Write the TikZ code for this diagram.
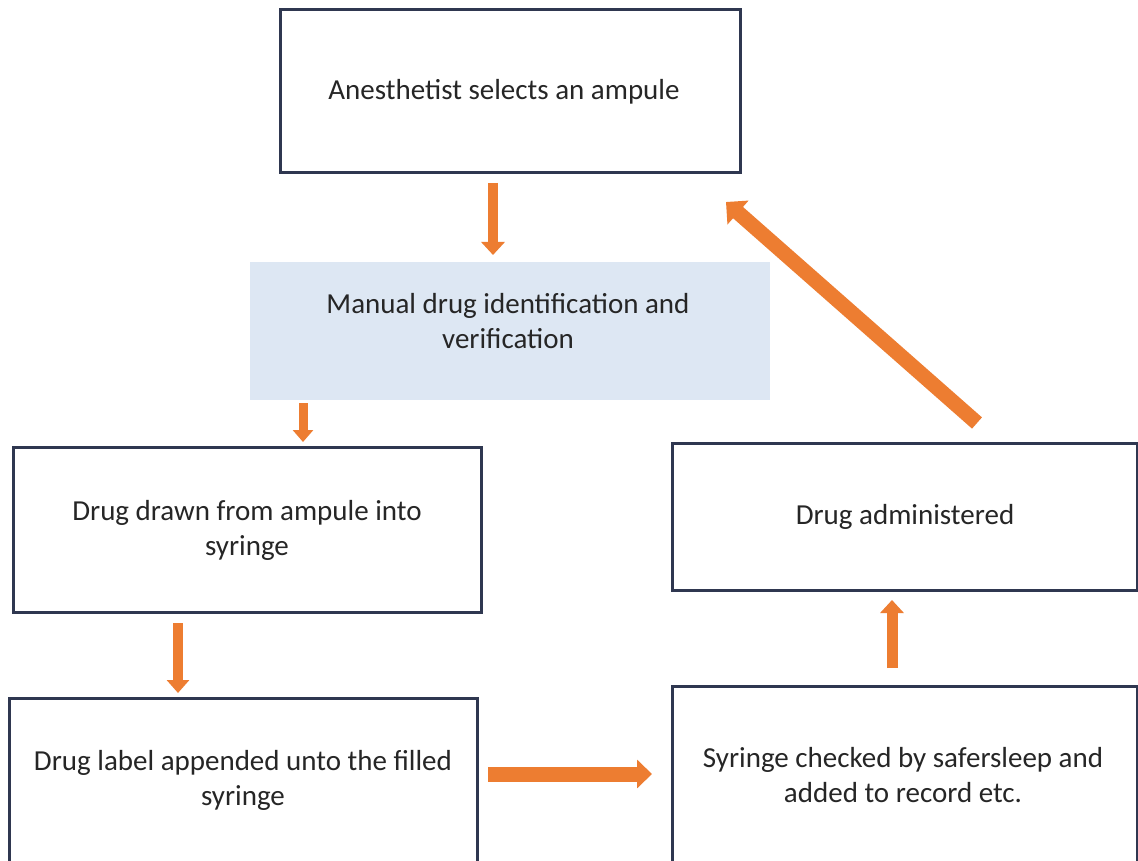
\documentclass[tikz,border=0pt]{standalone}
\usepackage{fontspec}
\setmainfont{Carlito}
\usetikzlibrary{arrows.meta,calc}
\definecolor{boxline}{HTML}{2F3750}
\definecolor{flowarrow}{HTML}{ED7D31}
\definecolor{checkfill}{HTML}{DDE7F3}
\definecolor{textgray}{HTML}{262626}
\tikzset{
  stepbox/.style={draw=boxline, line width=3pt, fill=white, rectangle, outer sep=0pt, inner sep=0pt},
  checkbox/.style={fill=checkfill, rectangle, outer sep=0pt, inner sep=0pt},
  steptext/.style={text=textgray, align=center, inner sep=0pt, font=\fontsize{29}{35}\selectfont},
  flow/.style={draw=flowarrow, line width=#1},
}
\begin{document}
\begin{tikzpicture}[x=1pt,y=-1pt]
  \fill[white] (0,0) rectangle (1138,861);
  \useasboundingbox (0,0) rectangle (1138,861);

  % process boxes
  \node[stepbox, minimum width=460pt, minimum height=163pt] (select) at (510,91.5) {};
  \node[checkbox, minimum width=520pt, minimum height=138pt] (verify) at (510,331) {};
  \node[stepbox, minimum width=468pt, minimum height=165pt] (drawn) at (247,529.5) {};
  \node[stepbox, minimum width=468pt, minimum height=166pt] (label) at (243,781) {};
  \node[stepbox, minimum width=465pt, minimum height=147pt] (admin) at (904.5,516.5) {};
  \node[stepbox, minimum width=465pt, minimum height=178pt] (check) at (904.5,775) {};

  % box texts
  \node[steptext] (selectT) at (504,92) {Anesthetist selects an ampule};
  \node[steptext] (verifyT) at (508,321) {Manual drug identification and\\verification};
  \node[steptext] (drawnT) at (247,530) {Drug drawn from ampule into\\syringe};
  \node[steptext] (labelT) at (243,780) {Drug label appended unto the filled\\syringe};
  \node[steptext] (adminT) at (905,517) {Drug administered};
  \node[steptext] (checkT) at (903,775) {Syringe checked by safersleep and\\added to record etc.};

  % connectors
  \draw[flow=10pt, -{Triangle[width=23pt,length=13pt]}]
    ($(select.south)+(-17,10)$) -- ($(verify.north)+(-17,-7)$);
  \draw[flow=9pt, -{Triangle[width=20pt,length=12pt]}]
    ($(verify.south)+(-207,3)$) -- ($(drawn.north)+(56,-5)$);
  \draw[flow=10pt, -{Triangle[width=22pt,length=13pt]}]
    ($(drawn.south)+(-69,11)$) -- ($(label.north)+(-65,-5)$);
  \draw[flow=15pt, -{Triangle[width=28pt,length=15pt]}]
    ($(label.east)+(11,-7)$) -- ($(check.west)+(-20,-1)$);
  \draw[flow=11pt, -{Triangle[width=23pt,length=13pt]}]
    ($(check.north)+(-12.5,-18)$) -- ($(admin.south)+(-12.5,10)$);
  \draw[flow=15pt, -{Triangle[width=31pt,length=16pt]}]
    ($(admin.north)+(72.5,-20)$) -- ($(select.south east)+(-14,29)$);
\end{tikzpicture}
\end{document}
